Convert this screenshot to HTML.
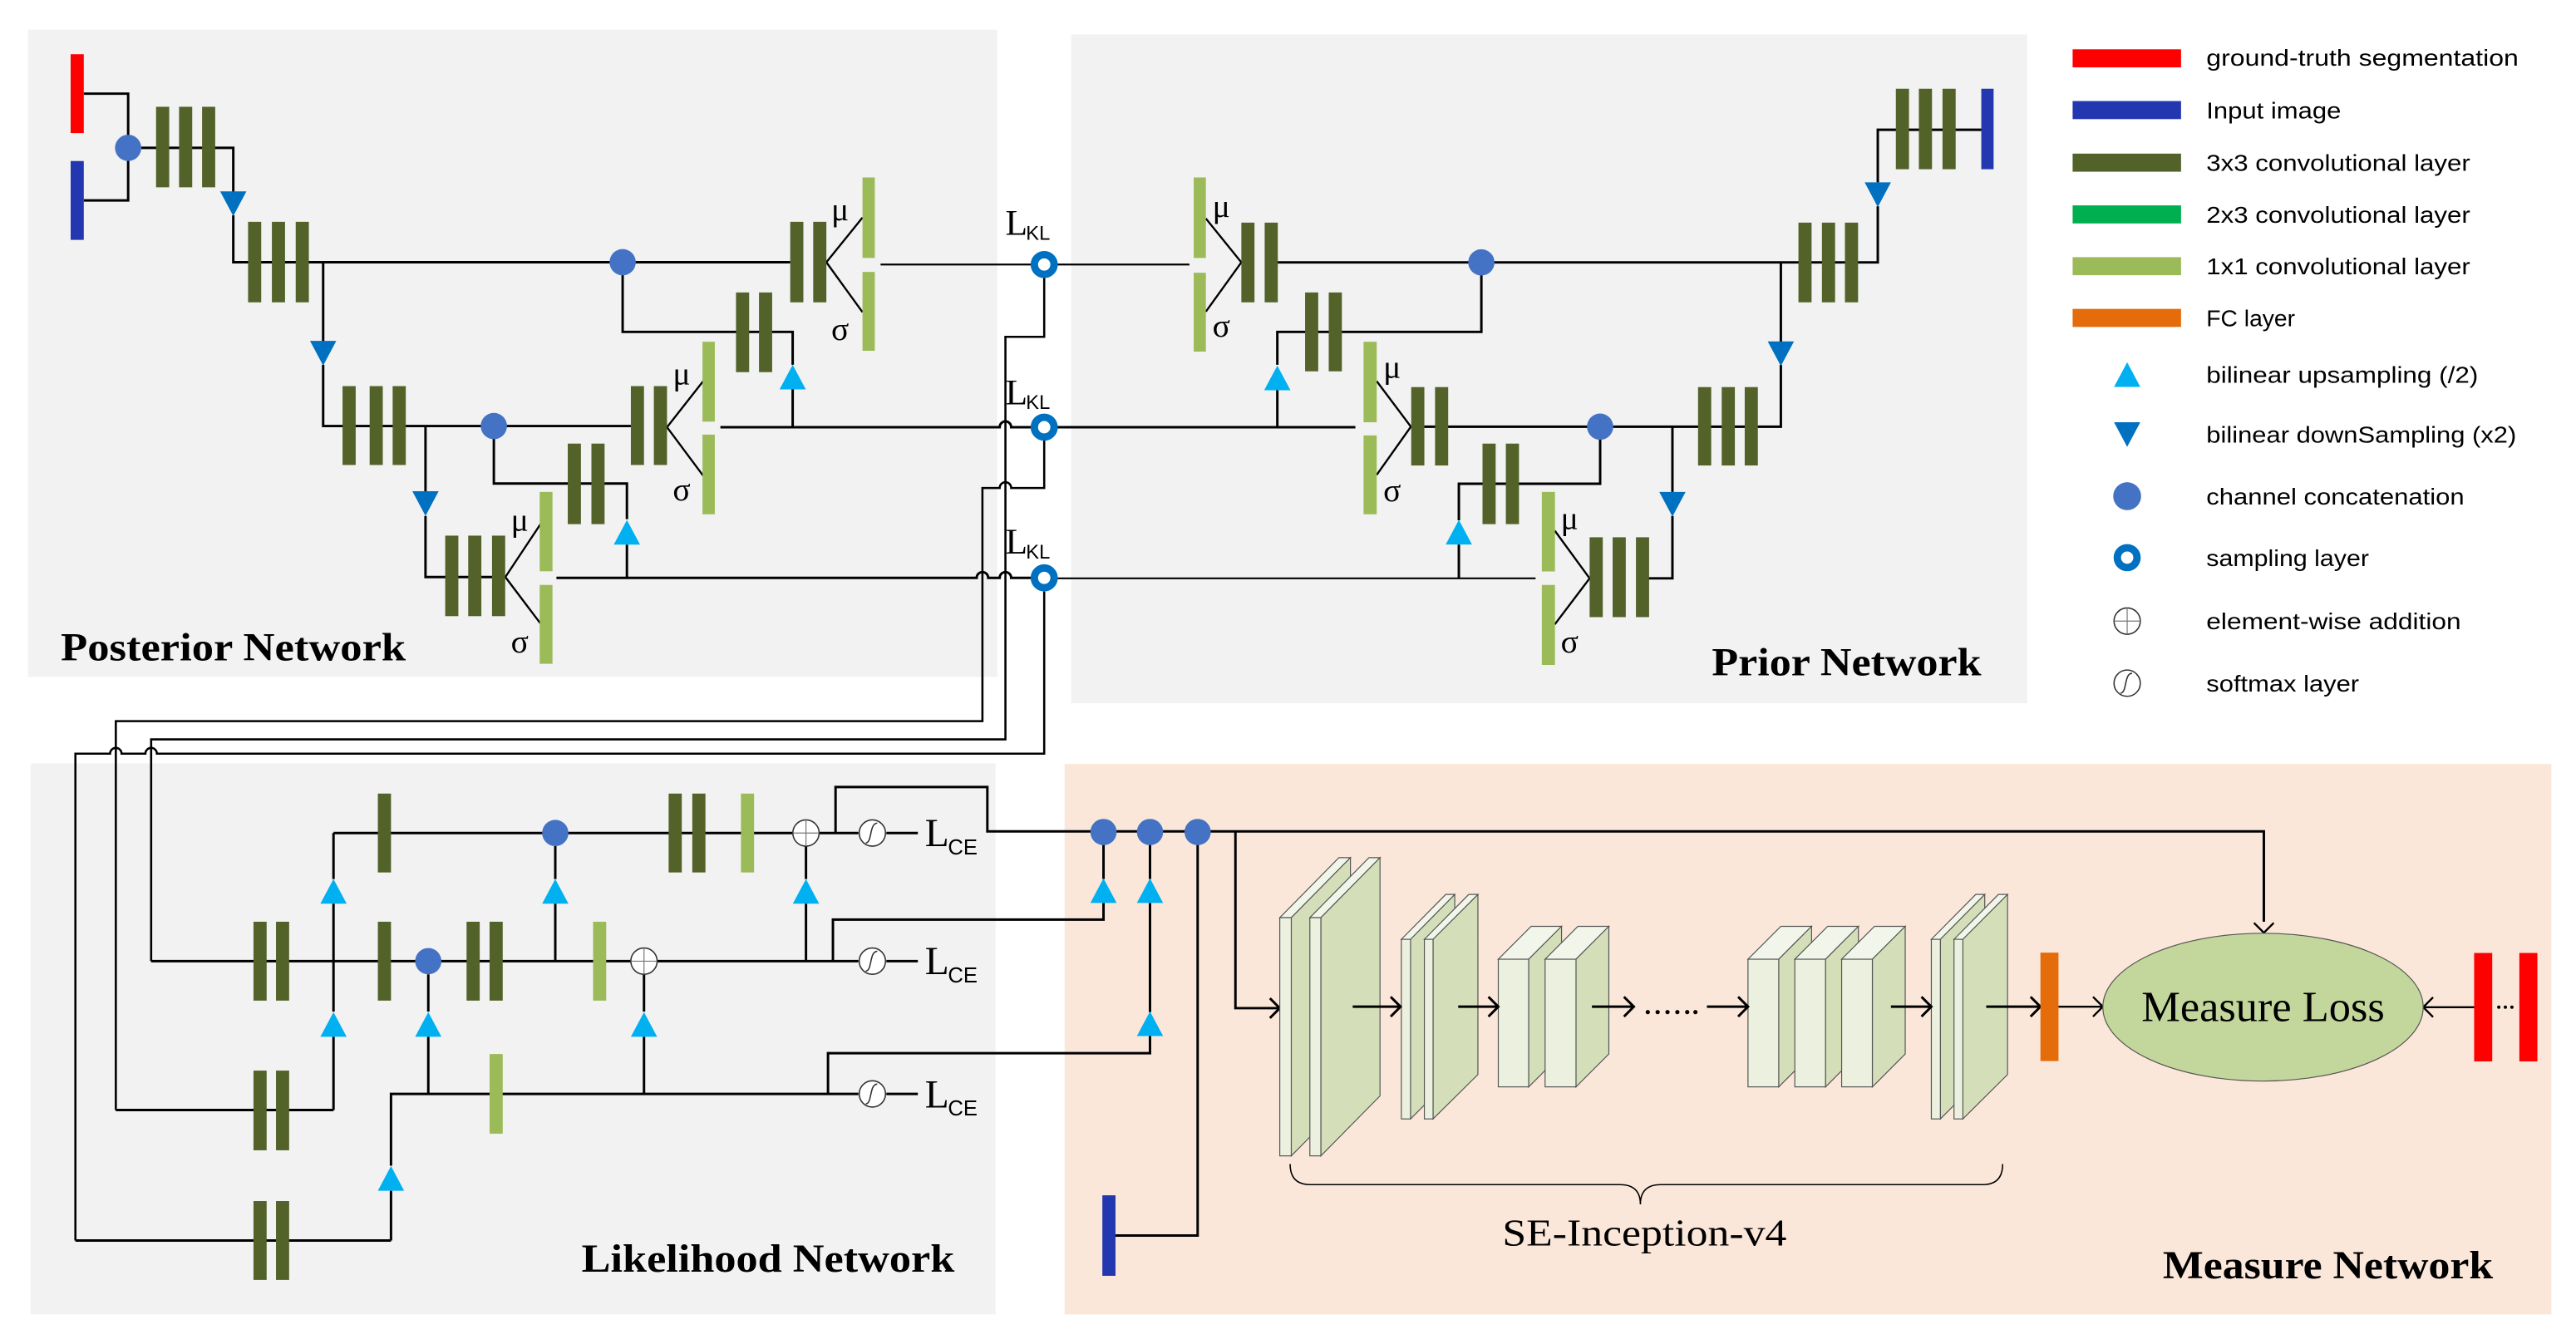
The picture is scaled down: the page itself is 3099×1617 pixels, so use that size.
<!DOCTYPE html>
<html><head><meta charset="utf-8">
<style>
html,body{margin:0;padding:0;background:#fff;}
svg{display:block;}
.s{font-family:"Liberation Serif",serif;}
.a{font-family:"Liberation Sans",sans-serif;}
</style></head><body>
<svg width="3099" height="1617" viewBox="0 0 1568 818" preserveAspectRatio="none" xmlns="http://www.w3.org/2000/svg">
<defs>
<g id="up"><polygon points="-8,0 8,0 0,-15" fill="#00b0f0"/></g>
<g id="dn"><polygon points="-8,0 8,0 0,15" fill="#0070c0"/></g>
<g id="add"><circle r="8" fill="#fff" stroke="#333" stroke-width="0.8"/><path d="M-8 0H8M0 -8V8" stroke="#777" stroke-width="0.6"/></g>
<g id="sm"><circle r="8" fill="#fff" stroke="#333" stroke-width="0.8"/><path d="M-4 6 C0 6 -2 -6 3 -6" fill="none" stroke="#333" stroke-width="0.8"/></g>
<g id="smp"><circle r="6" fill="#fff" stroke="#0070c0" stroke-width="4.5"/></g>
</defs>
<rect width="1568" height="818" fill="#fff"/>
<!-- panels -->
<rect x="17" y="18" width="590" height="394" fill="#f2f2f2"/>
<rect x="652" y="21" width="582" height="407" fill="#f2f2f2"/>
<rect x="18.6" y="464.6" width="587.4" height="335.4" fill="#f2f2f2"/>
<rect x="648" y="465" width="905" height="335" fill="#fbe7da"/>

<g fill="none" stroke="#000" stroke-width="1.5">
<!-- posterior -->
<path d="M51 57H78V122H51"/>
<path d="M86 90H142V117"/>
<path d="M142 131V159.6H481"/>
<path d="M196.7 159.6V208M196.7 222V259.3H384"/>
<path d="M259 259.3V299M259 314V351.2H307.6"/>
<path d="M379 159.6V202H482.5V222M482.5 237V260"/>
<path d="M300.6 259.3V294.3H381.6V316M381.6 331.5V351.7"/>
<path d="M503 159.6L525 132.4M503 159.6L525 190" stroke-width="1.2"/>
<path d="M406 260L428 232M406 260L428 289.5" stroke-width="1.2"/>
<path d="M307.6 351.2L329 319M307.6 351.2L329 379.5" stroke-width="1.2"/>
<path d="M536 161H628" stroke-width="1.1"/>
<path d="M438.5 260H608.5A3.5 3.5 0 0 1 615.5 260H628"/>
<path d="M338.7 351.7H594.5A3.5 3.5 0 0 1 601.5 351.7H608.5A3.5 3.5 0 0 1 615.5 351.7H628"/>
<path d="M635.6 169V205H612V450H92V585" stroke-width="1.3"/>
<path d="M635.6 268V297H615.5A3.5 3.5 0 0 0 608.5 297H598V438.9H70.5V675.6" stroke-width="1.3"/>
<path d="M635.6 360V458.7H95.5A3.5 3.5 0 0 0 88.5 458.7H74A3.5 3.5 0 0 0 67 458.7H45.9V755" stroke-width="1.3"/>
<!-- prior -->
<path d="M643.6 161H724" stroke-width="1.1"/>
<path d="M734 133L755.6 159.7L734 189.7" stroke-width="1.2"/>
<path d="M777 159.7H1143V125.5M1143 111V79H1206"/>
<path d="M901.7 159.7V202H777.5V222M777.5 237.5V259.7"/>
<path d="M1084 160V208M1084 222V259.7H867"/>
<path d="M643.6 260H825"/>
<path d="M838 232L858.8 259.7L838 289" stroke-width="1.2"/>
<path d="M974 259.7V294.4H888V316.7M888 331.4V352"/>
<path d="M1018 259.7V299.4M1018 314V352H1003"/>
<path d="M643.6 352H934.7" stroke-width="1.1"/>
<path d="M946.4 323L967.6 352L946.4 380" stroke-width="1.2"/>
<!-- likelihood -->
<path d="M92 585H384M400 585H522.5M539.5 585H558.7"/>
<path d="M203 507H482.6M498.6 507H522.5M539.5 507H558.7"/>
<path d="M508.6 507V479H601V506H1378V561"/>
<path d="M203 675.6V631M203 615.7V550M203 535V507"/>
<path d="M260.7 665.8V631M260.7 615.7V593"/>
<path d="M338 585V550M338 535V515"/>
<path d="M490.6 585V550M490.6 535V515"/>
<path d="M392 665.8V631M392 615.7V593"/>
<path d="M507 585V559.7H671.7V549.6M671.7 535V514"/>
<path d="M238 755V724.7M238 709.5V665.8H522.5M539.5 665.8H558.7"/>
<path d="M504 665.8V641H700V630.6M700 616V549.6M700 535V514"/>
<path d="M70.5 675.6H203"/>
<path d="M45.9 755H238"/>
<path d="M679 752H729V514"/>
<path d="M752 506V613.6H779M773 607.6L779 613.6L773 619.6"/>
</g>

<!-- dark green 3x3 conv bars -->
<g fill="#526229">
<rect x="95" y="65" width="8" height="49"/><rect x="109" y="65" width="8" height="49"/><rect x="123" y="65" width="8" height="49"/>
<rect x="151" y="135" width="8" height="49"/><rect x="165.5" y="135" width="8" height="49"/><rect x="180" y="135" width="8" height="49"/>
<rect x="208.5" y="235" width="8" height="48"/><rect x="225" y="235" width="8" height="48"/><rect x="239" y="235" width="8" height="48"/>
<rect x="271" y="326" width="8" height="49"/><rect x="285" y="326" width="8" height="49"/><rect x="299.5" y="326" width="8" height="49"/>
<rect x="448" y="178" width="8" height="48.5"/><rect x="462" y="178" width="8" height="48.5"/>
<rect x="345.6" y="270" width="8" height="49"/><rect x="360" y="270" width="8" height="49"/>
<rect x="481" y="135" width="8" height="49"/><rect x="495" y="135" width="8" height="49"/>
<rect x="384" y="235" width="8" height="48"/><rect x="398" y="235" width="8" height="48"/>
<!-- prior -->
<rect x="1154" y="54" width="8" height="49"/><rect x="1168" y="54" width="8" height="49"/><rect x="1182.4" y="54" width="8" height="49"/>
<rect x="1094.7" y="135.5" width="8" height="48.5"/><rect x="1109" y="135.5" width="8" height="48.5"/><rect x="1123" y="135.5" width="8" height="48.5"/>
<rect x="755.6" y="135.5" width="8" height="48.5"/><rect x="769.8" y="135.5" width="8" height="48.5"/>
<rect x="794.4" y="178" width="8" height="48"/><rect x="808.8" y="178" width="8" height="48"/>
<rect x="1033.6" y="235.6" width="8" height="47.7"/><rect x="1048" y="235.6" width="8" height="47.7"/><rect x="1062" y="235.6" width="8" height="47.7"/>
<rect x="859" y="235.6" width="8" height="47.7"/><rect x="873.5" y="235.6" width="8" height="47.7"/>
<rect x="902.4" y="270" width="8" height="49"/><rect x="916.6" y="270" width="8" height="49"/>
<rect x="967.6" y="327" width="8" height="48.6"/><rect x="981.6" y="327" width="8" height="48.6"/><rect x="995.8" y="327" width="8" height="48.6"/>
<!-- likelihood -->
<rect x="230" y="483" width="8" height="48"/>
<rect x="407" y="483" width="8" height="48"/><rect x="421.4" y="483" width="8" height="48"/>
<rect x="154.3" y="561" width="8" height="48"/><rect x="168" y="561" width="8" height="48"/>
<rect x="230" y="561" width="8" height="48"/>
<rect x="284" y="561" width="8" height="48"/><rect x="298" y="561" width="8" height="48"/>
<rect x="154.3" y="651.6" width="8" height="48.5"/><rect x="168" y="651.6" width="8" height="48.5"/>
<rect x="154.3" y="731" width="8" height="48"/><rect x="168" y="731" width="8" height="48"/>
</g>
<!-- light green 1x1 bars -->
<g fill="#9bbb59">
<rect x="525" y="108" width="7.5" height="49"/><rect x="525" y="165.5" width="7.5" height="48"/>
<rect x="427.6" y="208" width="7.5" height="48.6"/><rect x="427.6" y="264.5" width="7.5" height="48.5"/>
<rect x="328.5" y="299.4" width="7.8" height="48.3"/><rect x="328.5" y="356" width="7.8" height="48"/>
<rect x="726.6" y="108" width="7.4" height="49"/><rect x="726.6" y="166" width="7.4" height="48"/>
<rect x="830" y="208" width="8" height="49"/><rect x="830" y="265" width="8" height="48"/>
<rect x="938.5" y="299.4" width="8" height="48.4"/><rect x="938.5" y="356" width="8" height="48.7"/>
<rect x="451" y="483" width="8" height="48"/>
<rect x="361" y="561" width="8" height="48"/>
<rect x="298" y="641.5" width="8" height="48.5"/>
</g>
<!-- inputs -->
<rect x="43" y="33" width="8" height="48" fill="#ff0000"/>
<rect x="43" y="98" width="8" height="48" fill="#2337b0"/>
<rect x="1206" y="54" width="7.5" height="49" fill="#2337b0"/>
<rect x="671" y="727.5" width="8" height="49" fill="#2337b0"/>

<!-- concat circles -->
<g fill="#4472c4">
<circle cx="78" cy="90" r="8"/><circle cx="379" cy="159.6" r="8"/><circle cx="300.6" cy="259.3" r="8"/>
<circle cx="901.7" cy="159.7" r="8"/><circle cx="974" cy="259.7" r="8"/>
<circle cx="338" cy="507" r="8"/><circle cx="260.7" cy="585" r="8"/>
<circle cx="671.7" cy="506.4" r="8"/><circle cx="700" cy="506.4" r="8"/><circle cx="729" cy="506.4" r="8"/>
</g>
<!-- triangles -->
<use href="#dn" x="142" y="116.5"/><use href="#dn" x="196.7" y="207.5"/><use href="#dn" x="259" y="299"/>
<use href="#up" x="482.5" y="237"/><use href="#up" x="381.6" y="331.5"/>
<use href="#dn" x="1143" y="111"/><use href="#dn" x="1084" y="207.8"/><use href="#dn" x="1018" y="299.4"/>
<use href="#up" x="777.5" y="237.5"/><use href="#up" x="888" y="331.4"/>
<use href="#up" x="203" y="550"/><use href="#up" x="203" y="631"/><use href="#up" x="338" y="550"/>
<use href="#up" x="490.6" y="550"/><use href="#up" x="260.7" y="631"/><use href="#up" x="392" y="631"/>
<use href="#up" x="238" y="724.7"/>
<use href="#up" x="671.7" y="549.6"/><use href="#up" x="700" y="549.6"/><use href="#up" x="700" y="630.6"/>
<!-- sampling -->
<use href="#smp" x="635.6" y="161"/><use href="#smp" x="635.6" y="260"/><use href="#smp" x="635.6" y="351.7"/>
<!-- add / softmax -->
<use href="#add" x="490.6" y="507"/><use href="#add" x="392" y="585"/>
<use href="#sm" x="531" y="507"/><use href="#sm" x="531" y="585"/><use href="#sm" x="531" y="665.8"/>

<!-- labels -->
<g class="s" font-size="20" fill="#000">
<text x="506" y="134">μ</text><text x="506" y="207">σ</text>
<text x="409.5" y="234">μ</text><text x="409.5" y="304.5">σ</text>
<text x="311" y="323">μ</text><text x="311" y="397">σ</text>
<text x="738" y="132">μ</text><text x="738" y="205">σ</text>
<text x="842" y="230">μ</text><text x="842" y="305">σ</text>
<text x="950" y="322">μ</text><text x="950" y="397">σ</text>
</g>
<g fill="#000">
<text class="s" font-size="22" x="612" y="143">L</text><text class="a" font-size="12" x="624.5" y="146">KL</text>
<text class="s" font-size="22" x="612" y="246">L</text><text class="a" font-size="12" x="624.5" y="249">KL</text>
<text class="s" font-size="22" x="612" y="337">L</text><text class="a" font-size="12" x="624.5" y="340">KL</text>
<text class="s" font-size="24" x="563" y="515">L</text><text class="a" font-size="13" x="577" y="520">CE</text>
<text class="s" font-size="24" x="563" y="593">L</text><text class="a" font-size="13" x="577" y="598">CE</text>
<text class="s" font-size="24" x="563" y="674">L</text><text class="a" font-size="13" x="577" y="679">CE</text>
</g>
<g class="s" font-weight="bold" font-size="24" fill="#000">
<text x="37" y="402" textLength="210" lengthAdjust="spacingAndGlyphs">Posterior Network</text>
<text x="1042" y="411" textLength="164" lengthAdjust="spacingAndGlyphs">Prior Network</text>
<text x="354" y="774" textLength="227" lengthAdjust="spacingAndGlyphs">Likelihood Network</text>
<text x="1316.5" y="778" textLength="201" lengthAdjust="spacingAndGlyphs">Measure Network</text>
</g>

<!-- measure network blocks -->
<g stroke="#555" stroke-width="0.6">
<!-- slab group 1 -->
<polygon points="779,558.5 815,522 822,522 786,558.5" fill="#f2f6ea"/>
<polygon points="786,558.5 822,522 822,667 786,703.5" fill="#d4dfba"/>
<rect x="779" y="558.5" width="7" height="145" fill="#ebf1de"/>
<polygon points="797.3,558.5 833.3,522 840,522 804,558.5" fill="#f2f6ea"/>
<polygon points="804,558.5 840,522 840,667 804,703.5" fill="#d4dfba"/>
<rect x="797.3" y="558.5" width="6.7" height="145" fill="#ebf1de"/>
<!-- slab group 2 -->
<polygon points="853,571.7 880,544.4 885.5,544.4 858.6,571.7" fill="#f2f6ea"/>
<polygon points="858.6,571.7 885.5,544.4 885.5,654 858.6,681" fill="#d4dfba"/>
<rect x="853" y="571.7" width="5.6" height="109.3" fill="#ebf1de"/>
<polygon points="867,571.7 894,544.4 899.6,544.4 872.3,571.7" fill="#f2f6ea"/>
<polygon points="872.3,571.7 899.6,544.4 899.6,654 872.3,681" fill="#d4dfba"/>
<rect x="867" y="571.7" width="5.3" height="109.3" fill="#ebf1de"/>
<!-- boxes -->
<polygon points="912,583.8 932,563.8 950.5,563.8 930.5,583.8" fill="#f2f6ea"/>
<polygon points="930.5,583.8 950.5,563.8 950.5,641.5 930.5,661.5" fill="#d4dfba"/>
<rect x="912" y="583.8" width="18.5" height="77.7" fill="#ebf1de"/>
<polygon points="940.5,583.8 960.5,563.8 979.3,563.8 959.3,583.8" fill="#f2f6ea"/>
<polygon points="959.3,583.8 979.3,563.8 979.3,641.5 959.3,661.5" fill="#d4dfba"/>
<rect x="940.5" y="583.8" width="18.8" height="77.7" fill="#ebf1de"/>
<polygon points="1064,583.8 1084,563.8 1102.7,563.8 1082.7,583.8" fill="#f2f6ea"/>
<polygon points="1082.7,583.8 1102.7,563.8 1102.7,641.5 1082.7,661.5" fill="#d4dfba"/>
<rect x="1064" y="583.8" width="18.7" height="77.7" fill="#ebf1de"/>
<polygon points="1092.5,583.8 1112.5,563.8 1131.2,563.8 1111.2,583.8" fill="#f2f6ea"/>
<polygon points="1111.2,583.8 1131.2,563.8 1131.2,641.5 1111.2,661.5" fill="#d4dfba"/>
<rect x="1092.5" y="583.8" width="18.7" height="77.7" fill="#ebf1de"/>
<polygon points="1121,583.8 1141,563.8 1159.7,563.8 1139.7,583.8" fill="#f2f6ea"/>
<polygon points="1139.7,583.8 1159.7,563.8 1159.7,641.5 1139.7,661.5" fill="#d4dfba"/>
<rect x="1121" y="583.8" width="18.7" height="77.7" fill="#ebf1de"/>
<!-- slab group 6 -->
<polygon points="1175.6,571.7 1202.6,544.4 1208.1,544.4 1181.1,571.7" fill="#f2f6ea"/>
<polygon points="1181.1,571.7 1208.1,544.4 1208.1,654 1181.1,681" fill="#d4dfba"/>
<rect x="1175.6" y="571.7" width="5.5" height="109.3" fill="#ebf1de"/>
<polygon points="1189.4,571.7 1216.4,544.4 1222,544.4 1194.8,571.7" fill="#f2f6ea"/>
<polygon points="1194.8,571.7 1222,544.4 1222,654 1194.8,681" fill="#d4dfba"/>
<rect x="1189.4" y="571.7" width="5.4" height="109.3" fill="#ebf1de"/>
</g>
<!-- arrows in measure -->
<g fill="none" stroke="#000" stroke-width="1.5">
<path d="M823.4 612.7H852.5M846.5 606.7L852.5 612.7L846.5 618.7"/>
<path d="M887.6 612.7H912M906 606.7L912 612.7L906 618.7"/>
<path d="M969 612.7H994.5M988.5 606.7L994.5 612.7L988.5 618.7"/>
<path d="M1039 612.7H1064M1058 606.7L1064 612.7L1058 618.7"/>
<path d="M1151 612.7H1175.6M1169.6 606.7L1175.6 612.7L1169.6 618.7"/>
<path d="M1209 612.7H1242M1236 606.7L1242 612.7L1236 618.7"/>
<path d="M1253 612.7H1280M1274 606.7L1280 612.7L1274 618.7" stroke-width="1.2"/>
<path d="M1506 613H1475M1481 607L1475 613L1481 619" stroke-width="1.2"/>
<path d="M1372 561.7L1378 567.7L1384 561.7" stroke-width="1.2"/>
<path d="M785.3 708.5Q785.3 721 797.5 721H986Q998.5 721 998.5 733Q998.5 721 1011 721H1207Q1219 721 1219 708.5" stroke-width="0.8"/>
</g>
<g fill="#000">
<circle cx="1003" cy="616" r="1.3"/><circle cx="1009" cy="616" r="1.3"/><circle cx="1015" cy="616" r="1.3"/><circle cx="1021" cy="616" r="1.3"/><circle cx="1027" cy="616" r="1.3"/><circle cx="1032" cy="616" r="1.3"/>
<circle cx="1521" cy="613" r="1"/><circle cx="1525" cy="613" r="1"/><circle cx="1529" cy="613" r="1"/>
</g>
<rect x="1242" y="579.8" width="11" height="66" fill="#e46c0a"/>
<rect x="1506" y="580" width="11" height="66" fill="#ff0000"/>
<rect x="1533.5" y="580" width="11" height="66" fill="#ff0000"/>
<ellipse cx="1377.5" cy="613" rx="97.5" ry="45" fill="#c3d69b" stroke="#555" stroke-width="0.6"/>
<text class="s" x="1377.5" y="621.5" font-size="26" text-anchor="middle" textLength="148" lengthAdjust="spacingAndGlyphs">Measure Loss</text>
<text class="s" x="1001" y="758" font-size="23" text-anchor="middle" textLength="173" lengthAdjust="spacingAndGlyphs">SE-Inception-v4</text>

<!-- legend -->
<rect x="1261.6" y="30" width="66" height="11" fill="#ff0000"/>
<rect x="1261.6" y="61.5" width="66" height="11" fill="#2337b0"/>
<rect x="1261.6" y="93.5" width="66" height="11" fill="#526229"/>
<rect x="1261.6" y="125" width="66" height="11" fill="#00b050"/>
<rect x="1261.6" y="156.5" width="66" height="11" fill="#9bbb59"/>
<rect x="1261.6" y="188" width="66" height="11" fill="#e46c0a"/>
<use href="#up" x="1294.8" y="235.5"/>
<use href="#dn" x="1294.8" y="257"/>
<circle cx="1294.8" cy="302" r="8.5" fill="#4472c4"/>
<use href="#smp" x="1294.8" y="339.4"/>
<use href="#add" x="1294.8" y="378"/>
<use href="#sm" x="1294.8" y="415.8"/>
<g class="a" font-size="14" fill="#000">
<text x="1343" y="40" textLength="190" lengthAdjust="spacingAndGlyphs">ground-truth segmentation</text>
<text x="1343" y="72" textLength="82" lengthAdjust="spacingAndGlyphs">Input image</text>
<text x="1343" y="104" textLength="160.6" lengthAdjust="spacingAndGlyphs">3x3 convolutional layer</text>
<text x="1343" y="135.5" textLength="160.6" lengthAdjust="spacingAndGlyphs">2x3 convolutional layer</text>
<text x="1343" y="167" textLength="160.6" lengthAdjust="spacingAndGlyphs">1x1 convolutional layer</text>
<text x="1343" y="198.6" textLength="54" lengthAdjust="spacingAndGlyphs">FC layer</text>
<text x="1343" y="233" textLength="165.5" lengthAdjust="spacingAndGlyphs">bilinear upsampling (/2)</text>
<text x="1343" y="269.4" textLength="188.7" lengthAdjust="spacingAndGlyphs">bilinear downSampling (x2)</text>
<text x="1343" y="307" textLength="157" lengthAdjust="spacingAndGlyphs">channel concatenation</text>
<text x="1343" y="344.4" textLength="99" lengthAdjust="spacingAndGlyphs">sampling layer</text>
<text x="1343" y="383" textLength="155" lengthAdjust="spacingAndGlyphs">element-wise addition</text>
<text x="1343" y="420.8" textLength="93" lengthAdjust="spacingAndGlyphs">softmax layer</text>
</g>
</svg>
</body></html>
